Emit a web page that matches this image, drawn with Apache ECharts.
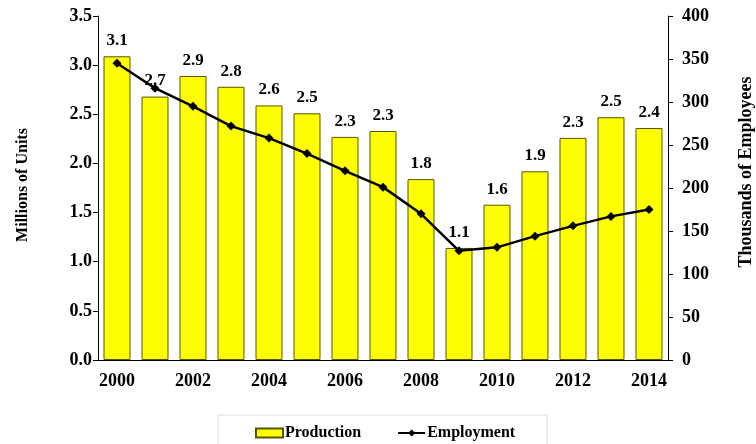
<!DOCTYPE html>
<html><head><meta charset="utf-8">
<script src="https://cdn.jsdelivr.net/npm/echarts@6/dist/echarts.min.js"></script>
<style>html,body{margin:0;padding:0;background:#fff}#c{width:756px;height:444px}</style>
</head><body><div id="c"></div>
<script>
const years = ['2000','2001','2002','2003','2004','2005','2006','2007','2008','2009','2010','2011','2012','2013','2014'];
const production = [3.09,2.68,2.89,2.78,2.59,2.51,2.27,2.33,1.84,1.14,1.58,1.92,2.26,2.47,2.36];
const employment = [345,316,295,272,258,240,220,201,170,127,131,144,156,167,175];
const leftTicks = ['0.0','0.5','1.0','1.5','2.0','2.5','3.0','3.5'];
const leftTitle = 'Millions of Units';
const rightTitle = 'Thousands of Employees';

const font = '"Liberation Serif","Times New Roman",serif';
const chart = echarts.init(document.getElementById('c'));
chart.setOption({
  backgroundColor:'#fff',
  animation:false,
  textStyle:{fontFamily:font},
  grid:{left:98,right:88,top:16,bottom:84},
  graphic:[
    {type:'rect',shape:{x:218,y:415,width:329,height:40},style:{fill:'none',stroke:'#d9d9d9',lineWidth:1},z:-1},
    {type:'text',x:23,y:185,rotation:Math.PI/2,style:{text:leftTitle,font:'bold 16px '+font,fill:'#000',textAlign:'center',textVerticalAlign:'middle'}},
    {type:'text',x:746,y:172,rotation:Math.PI/2,style:{text:rightTitle,font:'bold 18px '+font,fill:'#000',textAlign:'center',textVerticalAlign:'middle'}}
  ],
  legend:{
    left:250, top:420, itemGap:36, itemWidth:27, itemHeight:9,
    textStyle:{fontFamily:font,fontWeight:'bold',fontSize:16,color:'#000',padding:[0,0,0,-3]},
    data:[{name:'Production',icon:'rect'},{name:'Employment'}]
  },
  xAxis:{
    type:'category', data:years,
    axisLine:{lineStyle:{color:'#000',width:1}},
    axisTick:{interval:1,length:5,lineStyle:{color:'#000'}},
    axisLabel:{interval:1,fontFamily:font,fontWeight:'bold',fontSize:18,color:'#000',margin:12}
  },
  yAxis:[{
    type:'value', min:0, max:3.5, interval:0.5,
    axisLine:{show:true,lineStyle:{color:'#000'}},
    axisTick:{show:true,length:5,lineStyle:{color:'#000'}},
    splitLine:{show:false},
    axisLabel:{fontFamily:font,fontWeight:'bold',fontSize:18,color:'#000',margin:6,
      formatter:(v)=>leftTicks[Math.round(v/0.5)]}
  },{
    type:'value', min:0, max:400, interval:50, position:'right',
    axisLine:{show:true,lineStyle:{color:'#000'}},
    axisTick:{show:true,length:5,lineStyle:{color:'#000'}},
    splitLine:{show:false},
    axisLabel:{fontFamily:font,fontWeight:'bold',fontSize:18,color:'#000',margin:14}
  }],
  series:[{
    name:'Production', type:'bar', data:production, yAxisIndex:0,
    barCategoryGap:'29%',
    itemStyle:{color:'#ffff00',borderColor:'#555500',borderWidth:1},
    label:{show:true,position:'top',distance:7,fontFamily:font,fontWeight:'bold',fontSize:17,color:'#000',
      formatter:(p)=>p.value.toFixed(1)}
  },{
    name:'Employment', type:'line', data:employment, yAxisIndex:1,
    symbol:'diamond', symbolSize:9,
    lineStyle:{color:'#000',width:2.5},
    itemStyle:{color:'#000'}
  }]
});
</script></body></html>
